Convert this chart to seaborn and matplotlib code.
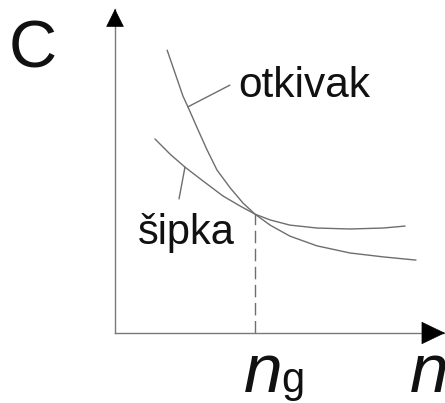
import matplotlib
matplotlib.use("Agg")
import matplotlib.pyplot as plt
import seaborn as sns
import pandas as pd

# ---- data (abstract units) ----
otkivak_n = [1.58, 1.82, 2.06, 2.21, 2.49, 2.79, 3.09, 3.49, 3.88, 4.24, 4.70, 5.30, 6.12, 7.12, 8.12, 9.12]
otkivak_c = [8.73, 8.02, 7.31, 6.98, 6.33, 5.65, 5.03, 4.48, 4.01, 3.67, 3.33, 2.99, 2.69, 2.47, 2.35, 2.25]
sipka_n = [1.21, 1.67, 2.12, 2.67, 3.27, 3.79, 4.24, 4.70, 5.30, 6.12, 7.12, 8.12, 8.79]
sipka_c = [5.99, 5.52, 5.12, 4.69, 4.23, 3.92, 3.67, 3.49, 3.33, 3.24, 3.21, 3.24, 3.30]
n_g = 4.24
c_g = 3.67
series_names = ["otkivak", "šipka"]
label_c = "C"
label_n = "n"
label_g = "g"

df = pd.concat([
    pd.DataFrame({"n": otkivak_n, "C": otkivak_c, "s": series_names[0]}),
    pd.DataFrame({"n": sipka_n, "C": sipka_c, "s": series_names[1]}),
])

sns.set_style("white")
plt.rcParams["font.family"] = ["Liberation Sans", "DejaVu Sans"]

W, H = 445, 403
fig = plt.figure(figsize=(W / 100, H / 100), dpi=100)
ax = fig.add_axes([115 / W, 70 / H, 330 / W, 324 / H])
ax.set_xlim(0, 10)
ax.set_ylim(0, 10)

gray = "#6e6e6e"
sns.lineplot(data=df, x="n", y="C", hue="s", palette=[gray, gray],
             sort=False, estimator=None, legend=False, lw=1.0, ax=ax)
for ln in ax.lines:
    ln.set_solid_joinstyle("round")

# dashed drop line at n_g
ax.plot([n_g, n_g], [0, c_g], color=gray, lw=1.0, dashes=(9, 4))

# leader lines
ax.plot([2.21, 3.48], [6.98, 7.65], color=gray, lw=1.0, clip_on=False)
ax.plot([2.12, 1.94], [5.12, 4.14], color=gray, lw=1.0, clip_on=False)

# axes
for s in ["top", "right"]:
    ax.spines[s].set_visible(False)
for s in ["left", "bottom"]:
    ax.spines[s].set_color("#7a7a7a")
    ax.spines[s].set_linewidth(1.0)
ax.set_xticks([])
ax.set_yticks([])
ax.set_xlabel("")
ax.set_ylabel("")
ax.patch.set_alpha(0)

# arrow heads
ax.annotate("", xy=(0, 1), xytext=(0, 0.955), xycoords="axes fraction",
            arrowprops=dict(arrowstyle="-|>,head_length=1.0,head_width=0.5",
                            mutation_scale=12, color="black", lw=0.5,
                            shrinkA=0, shrinkB=0), annotation_clip=False)
ax.annotate("", xy=(1, 0), xytext=(0.935, 0), xycoords="axes fraction",
            arrowprops=dict(arrowstyle="-|>,head_length=1.0,head_width=0.48",
                            mutation_scale=16, color="black", lw=0.5,
                            shrinkA=0, shrinkB=0), annotation_clip=False)

def px(x, y):
    return x / W, 1 - y / H

tc = "#111111"
fig.text(*px(9, 67), label_c, fontsize=48, color=tc, ha="left", va="baseline")
fig.text(*px(238, 97), series_names[0], fontsize=30.5, color=tc, ha="left", va="baseline")
fig.text(*px(138, 244), series_names[1], fontsize=30, color=tc, ha="left", va="baseline")
fig.text(*px(244, 392), label_n, fontsize=50, style="italic", color=tc, ha="left", va="baseline")
fig.text(*px(281, 392), label_g, fontsize=30, color=tc, ha="left", va="baseline")
fig.text(*px(410, 392), label_n, fontsize=50, style="italic", color=tc, ha="left", va="baseline")

fig.savefig("out.png", dpi=100)
